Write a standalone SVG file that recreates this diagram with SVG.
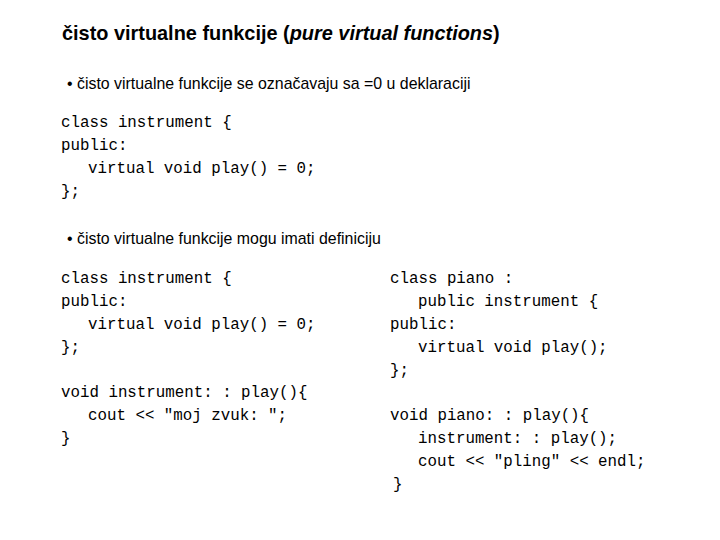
<svg xmlns="http://www.w3.org/2000/svg" width="720" height="540" viewBox="0 0 720 540">
<style>
.t{font-family:"Liberation Sans",Arial,sans-serif;font-size:19.9px;font-weight:bold;fill:#000}
.b{font-family:"Liberation Sans",Arial,sans-serif;font-size:15.9px;fill:#000}
.c{font-family:"Liberation Mono","Courier New",monospace;font-size:15.8px;fill:#000;white-space:pre}
</style>
<rect width="720" height="540" fill="#fff"/>
<text class="t" x="62" y="40">čisto virtualne funkcije (<tspan font-style="italic">pure virtual functions</tspan>)</text>
<text class="b" x="67" y="89">• čisto virtualne funkcije se označavaju sa =0 u deklaraciji</text>
<g class="c">
<text class="c" x="61" y="127">class instrument {</text>
<text class="c" x="61" y="150">public:</text>
<text class="c" x="88" y="173">virtual void play() = 0;</text>
<text class="c" x="61" y="196">};</text>
</g>
<text class="b" x="67" y="244">• čisto virtualne funkcije mogu imati definiciju</text>
<text class="c" x="61" y="283">class instrument {</text>
<text class="c" x="61" y="306">public:</text>
<text class="c" x="88" y="329">virtual void play() = 0;</text>
<text class="c" x="61" y="352">};</text>
<text class="c" x="61" y="397">void instrument: : play(){</text>
<text class="c" x="88" y="420">cout &lt;&lt; "moj zvuk: ";</text>
<text class="c" x="61" y="443">}</text>
<text class="c" x="390" y="283">class piano :</text>
<text class="c" x="418" y="306">public instrument {</text>
<text class="c" x="390" y="329">public:</text>
<text class="c" x="418" y="352">virtual void play();</text>
<text class="c" x="390" y="375">};</text>
<text class="c" x="390" y="420">void piano: : play(){</text>
<text class="c" x="418" y="443">instrument: : play();</text>
<text class="c" x="418" y="466">cout &lt;&lt; "pling" &lt;&lt; endl;</text>
<text class="c" x="393" y="489">}</text>
</svg>
